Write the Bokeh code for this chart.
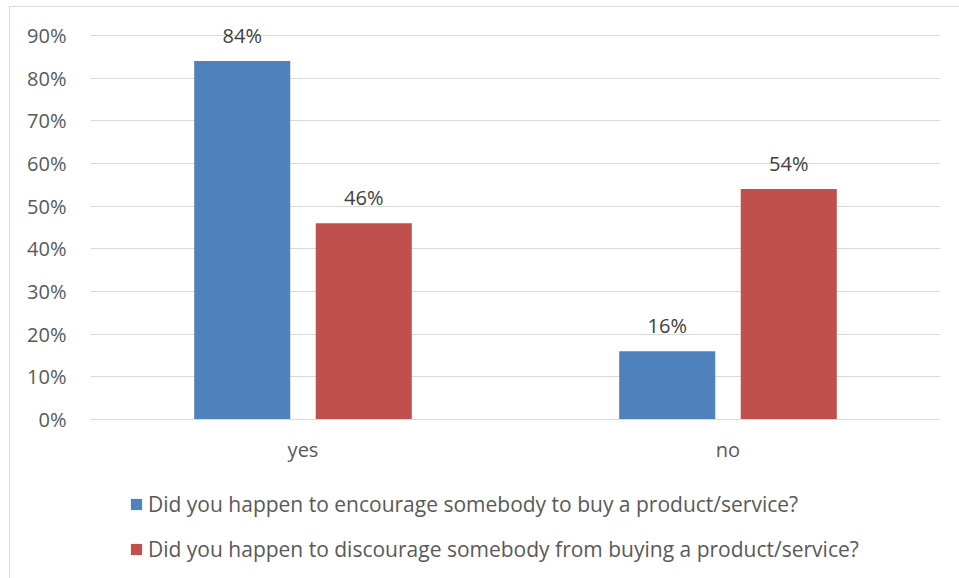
from bokeh.plotting import figure
from bokeh.models import ColumnDataSource, FactorRange, Legend, LegendItem, NumeralTickFormatter, Range1d, FixedTicker
from bokeh.transform import dodge
from bokeh.core.properties import value
from bokeh.embed import file_html
from bokeh.resources import INLINE

categories = ["yes", "no"]
encourage = [0.84, 0.16]
discourage = [0.46, 0.54]
series_names = [
    "Did you happen to encourage somebody to buy a product/service?",
    "Did you happen to discourage somebody from buying a product/service?",
]
y_ticks = [0.0, 0.1, 0.2, 0.3, 0.4, 0.5, 0.6, 0.7, 0.8, 0.9]
colors = ["#4f81bd", "#c0504d"]
FONT = "Open Sans"
TXT = "#595959"

# layout (pixels): plot area from y=35 (90%) to y=419 (0%), canvas bottom at 578
PX_PER_UNIT = 384 / 0.9
Y_TOP = 0.9 + 13 / PX_PER_UNIT
Y_BOTTOM = -(578 - 419) / PX_PER_UNIT

src = ColumnDataSource(dict(
    cat=categories,
    enc=encourage,
    dis=discourage,
    enc_lbl=[f"{round(v*100)}%" for v in encourage],
    dis_lbl=[f"{round(v*100)}%" for v in discourage],
))

p = figure(x_range=FactorRange(*categories, range_padding=0), y_range=Range1d(Y_BOTTOM, Y_TOP),
           frame_width=850, frame_height=556, output_backend="svg", toolbar_location=None,
           min_border_left=80, min_border_right=19, min_border_top=15, min_border_bottom=0)
p.margin = (6, 0, 0, 9)
p.styles = {"border-left": "1px solid #d9d9d9", "border-top": "1px solid #d9d9d9"}

bw = 0.226
r1 = p.vbar(x=dodge("cat", -0.143, range=p.x_range), top="enc", width=bw, source=src,
            fill_color=colors[0], line_color=None)
r2 = p.vbar(x=dodge("cat", 0.143, range=p.x_range), top="dis", width=bw, source=src,
            fill_color=colors[1], line_color=None)

for col, lbl, off in (("enc", "enc_lbl", -0.143), ("dis", "dis_lbl", 0.143)):
    p.text(x=dodge("cat", off, range=p.x_range), y=col, text=lbl, source=src,
           text_align="center", text_baseline="middle", y_offset=-26,
           text_font=value(FONT), text_font_size="20px", text_color="#404040")

p.yaxis.ticker = FixedTicker(ticks=y_ticks)
p.ygrid.ticker = FixedTicker(ticks=y_ticks)
p.yaxis.formatter = NumeralTickFormatter(format="0%")
p.yaxis.axis_line_color = None
p.yaxis.major_tick_line_color = None
p.yaxis.minor_tick_line_color = None
p.yaxis.major_label_text_font = FONT
p.yaxis.major_label_text_font_size = "20px"
p.yaxis.major_label_text_color = TXT
p.yaxis.major_label_standoff = 18

p.xaxis.fixed_location = 0
p.xaxis.axis_line_color = "#d9d9d9"
p.xaxis.major_tick_line_color = None
p.xaxis.minor_tick_line_color = None
p.xaxis.major_label_text_font = FONT
p.xaxis.major_label_text_font_size = "20px"
p.xaxis.major_label_text_color = TXT
p.xaxis.major_label_standoff = 10

p.xgrid.grid_line_color = None
p.ygrid.grid_line_color = "#d9d9d9"
p.ygrid.grid_line_width = 1
p.outline_line_color = None

legend = Legend(items=[LegendItem(label=series_names[0], renderers=[r1]),
                       LegendItem(label=series_names[1], renderers=[r2])],
                orientation="vertical", location=(39, 15),
                label_text_font=FONT, label_text_font_size="21px", label_text_color=TXT,
                glyph_width=14, glyph_height=14, label_standoff=5, spacing=17,
                border_line_color=None, background_fill_alpha=0, padding=0, margin=0)
p.add_layout(legend)

open("out.html", "w").write(file_html(p, INLINE))
